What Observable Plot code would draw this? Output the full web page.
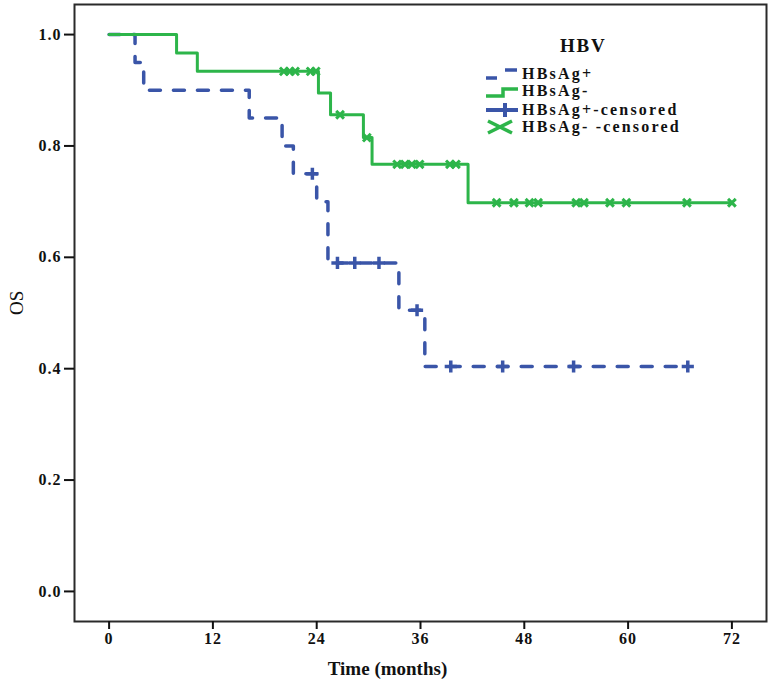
<!DOCTYPE html>
<html>
<head>
<meta charset="utf-8">
<script src="https://cdn.jsdelivr.net/npm/d3@7"></script>
<script src="https://cdn.jsdelivr.net/npm/@observablehq/plot@0.6"></script>
<style>
  html, body { margin: 0; padding: 0; background: #fff; }
  #wrap { position: relative; width: 771px; height: 685px; }
  #wrap svg g[aria-label="x-axis tick label"] text,
  #wrap svg g[aria-label="y-axis tick label"] text { letter-spacing: 1px; }
  #legend { position: absolute; left: 484px; top: 36px; font-family: "Liberation Serif", serif; font-weight: bold; color: #111; }
  #legend .title { position: absolute; left: 76px; top: -1px; font-size: 19px; letter-spacing: 1.8px; }
  #legend .item { position: absolute; left: 0; height: 18px; display: flex; align-items: center; font-size: 16px; letter-spacing: 2.2px; white-space: nowrap; }
  #legend svg { margin-right: 4px; }
</style>
</head>
<body>
<div id="wrap"></div>
<script>
// ---- data ----
const xTicks = [0, 12, 24, 36, 48, 60, 72];
const yTicks = [0.0, 0.2, 0.4, 0.6, 0.8, 1.0];

// HBsAg+ survival step curve
const posTime = [0, 3.0, 4.0, 16.2, 20.0, 21.3, 24.0, 25.3, 33.5, 36.5, 67.0];
const posOS   = [1.0, 0.95, 0.90, 0.85, 0.80, 0.75, 0.70, 0.59, 0.505, 0.404, 0.404];
// HBsAg+ censored
const posCensTime = [23.5, 26.4, 28.4, 31.2, 35.6, 39.5, 45.5, 53.7, 66.9];
const posCensOS   = [0.75, 0.59, 0.59, 0.59, 0.505, 0.404, 0.404, 0.404, 0.404];

// HBsAg- survival step curve
const negTime = [0, 7.8, 10.2, 24.2, 25.6, 29.4, 30.4, 41.5, 72.0];
const negOS   = [1.0, 0.967, 0.934, 0.895, 0.856, 0.815, 0.767, 0.698, 0.698];
// HBsAg- censored
const negCensTime = [20.2, 20.9, 21.5, 23.3, 23.9, 26.7, 29.8, 33.3, 34.2, 35.0, 35.9, 39.4, 40.1,
                     44.8, 46.8, 48.6, 49.6, 54.0, 54.9, 57.9, 59.8, 66.8, 72.0];
const negCensOS   = [0.934, 0.934, 0.934, 0.934, 0.934, 0.856, 0.815, 0.767, 0.767, 0.767, 0.767, 0.767, 0.767,
                     0.698, 0.698, 0.698, 0.698, 0.698, 0.698, 0.698, 0.698, 0.698, 0.698];

const seriesNames = ["HBsAg+", "HBsAg-", "HBsAg+-censored", "HBsAg- -censored"];
const legendTitle = "HBV";
const xLabel = "Time (months)";
const yLabel = "OS";

const BLUE = "#3a55a8";
const GREEN = "#2db54a";

const zip = (t, s) => t.map((d, i) => ({t: d, s: s[i]}));
const pos = zip(posTime, posOS);
const posC = zip(posCensTime, posCensOS);
const neg = zip(negTime, negOS);
const negC = zip(negCensTime, negCensOS);

const chart = Plot.plot({
  width: 771,
  height: 685,
  marginLeft: 74,
  marginRight: 5,
  marginTop: 4,
  marginBottom: 64,
  style: "font-family: 'Liberation Serif', serif; font-weight: bold; font-size: 16px; color: #111; background: #fff;",
  x: {domain: [-4, 76]},
  y: {domain: [-0.054, 1.054]},
  marks: [
    Plot.frame({stroke: "#2a2a2a", strokeWidth: 2}),
    Plot.axisY({ticks: yTicks, tickFormat: d3.format(".1f"), tickSize: 10, tickPadding: 3, strokeWidth: 2, label: null, fontSize: 16}),
    Plot.axisX({ticks: xTicks, tickFormat: d3.format("d"), tickSize: 8, tickPadding: 3, strokeWidth: 2, label: null, fontSize: 16}),
    Plot.line(pos, {x: "t", y: "s", curve: "step-after", stroke: BLUE, strokeWidth: 3.5, strokeDasharray: "11,13"}),
    Plot.dot(posC, {x: "t", y: "s", symbol: "plus", r: 4, stroke: BLUE, strokeWidth: 3.5}),
    Plot.line(neg, {x: "t", y: "s", curve: "step-after", stroke: GREEN, strokeWidth: 3}),
    Plot.dot(negC, {x: "t", y: "s", symbol: "times", r: 3.6, stroke: GREEN, strokeWidth: 3}),
    Plot.text([xLabel], {frameAnchor: "bottom", lineAnchor: "middle", dy: 47, dx: -33, fontSize: 19, fontWeight: "bold", fill: "#111"}),
    Plot.text([yLabel], {frameAnchor: "left", rotate: -90, lineAnchor: "middle", dx: -58, dy: 2, fontSize: 19, fontWeight: "normal", fill: "#111"})
  ]
});

const wrap = document.getElementById("wrap");
wrap.appendChild(chart);

// ---- legend overlay ----
const legend = document.createElement("div");
legend.id = "legend";
const samples = [
  `<svg width="34" height="18"><path d="M2,13H13" stroke="${BLUE}" stroke-width="3.5"/><path d="M21,5H33" stroke="${BLUE}" stroke-width="3.5"/></svg>`,
  `<svg width="34" height="18"><path d="M2,14H19V7H34" fill="none" stroke="${GREEN}" stroke-width="3.5"/></svg>`,
  `<svg width="34" height="18"><path d="M2,9H34M21,2V16" stroke="${BLUE}" stroke-width="4"/></svg>`,
  `<svg width="34" height="18"><path d="M4,3L28,15M4,15L28,3" stroke="${GREEN}" stroke-width="3.5"/></svg>`
];
const tops = [29, 46, 65, 82];
let html = `<div class="title">${legendTitle}</div>`;
seriesNames.forEach((n, i) => {
  html += `<div class="item" style="top:${tops[i]}px">${samples[i]}<span>${n}</span></div>`;
});
legend.innerHTML = html;
wrap.appendChild(legend);
</script>
</body>
</html>
